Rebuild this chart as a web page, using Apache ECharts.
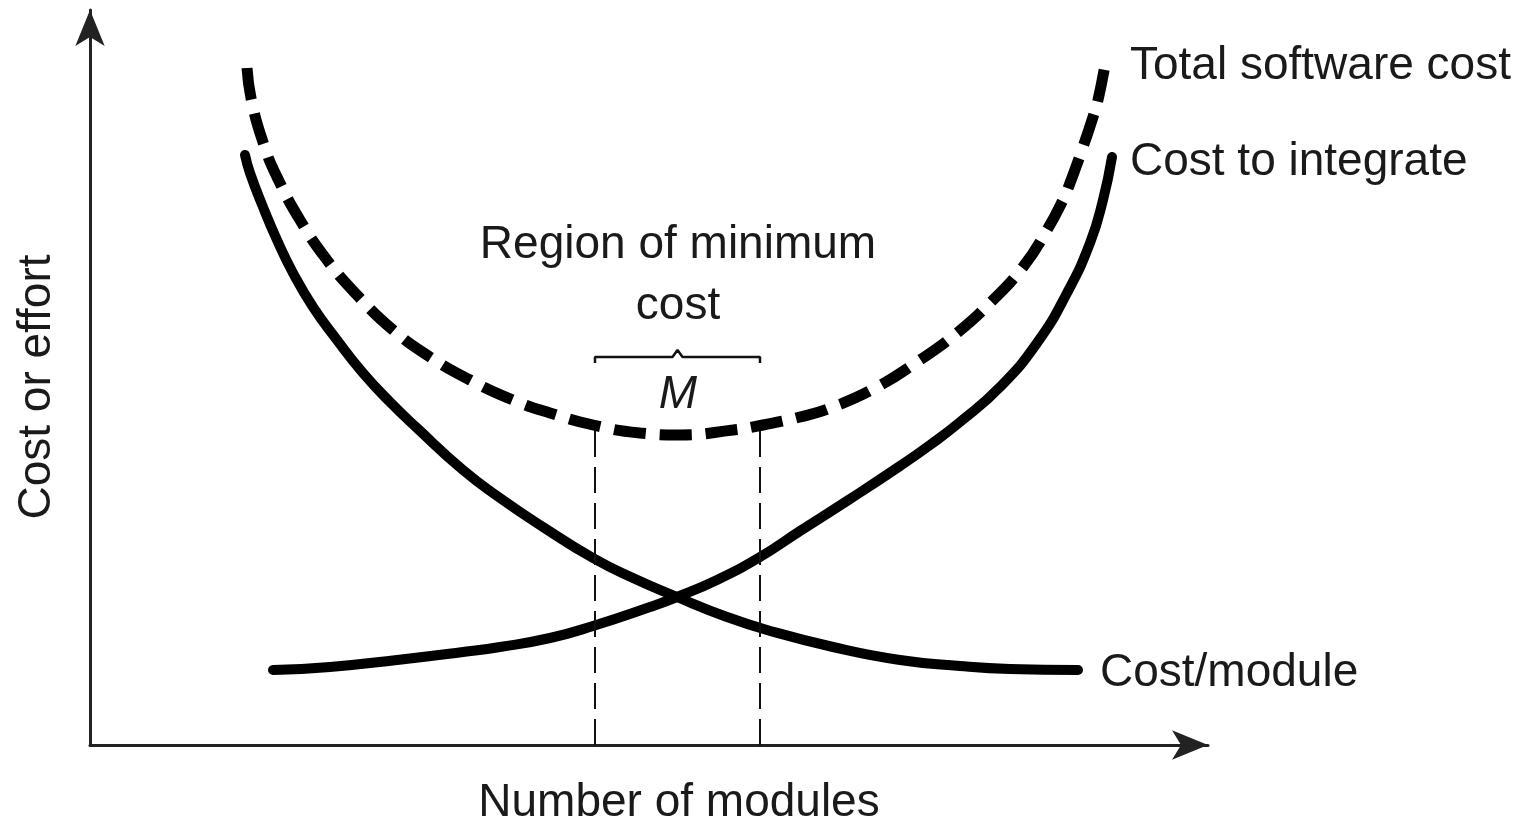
<!DOCTYPE html>
<html>
<head>
<meta charset="utf-8">
<script src="https://cdn.jsdelivr.net/npm/echarts@6/dist/echarts.min.js"></script>
<style>
html,body{margin:0;padding:0;background:#fff;}
#c{width:1526px;height:826px;}
</style>
</head>
<body>
<div id="c"></div>
<script>
// Curves (x = number of modules, y = cost or effort; arbitrary units)
var totalX = [15.7,16.2,17.5,18.7,21.0,23.7,26.7,30.3,34.0,38.0,42.3,46.0,50.3,55.0,59.0,64.3,67.3,71.0,74.3,78.7,82.7,86.7,90.0,93.3,95.7,97.3,98.0,99.3,100.3,100.8,101.5];
var totalY = [67.7,64.2,59.7,56.8,52.5,48.5,45.0,41.5,38.8,36.5,34.5,33.2,32.0,31.2,31.0,31.5,32.0,32.8,33.8,35.8,38.3,41.2,44.2,47.8,51.5,54.5,56.2,59.8,62.8,64.5,68.0];

var integrateX = [18.3,24.0,30.7,37.3,41.0,46.0,50.3,56.0,58.7,62.7,67.0,71.0,76.0,81.0,84.0,87.0,91.0,94.7,97.7,100.0,101.3,102.2];
var integrateY = [7.5,7.8,8.5,9.3,9.8,10.7,11.9,13.8,14.8,16.5,18.8,21.4,24.6,27.9,30.0,32.3,35.8,40.2,45.2,50.2,54.5,58.8];

var moduleX = [15.5,16.0,17.3,18.7,20.3,22.3,24.7,27.3,30.0,32.7,37.3,41.0,45.3,50.3,54.3,58.7,63.7,67.7,74.3,81.0,87.0,92.0,98.8];
var moduleY = [59.0,57.2,53.8,50.5,47.2,43.8,40.5,37.2,34.3,31.7,27.5,24.7,21.8,18.7,16.7,14.8,12.8,11.5,9.8,8.5,7.9,7.6,7.5];

// Region of minimum cost (M): bounds on x, height of the guide lines
var regionLeft = 50.5;
var regionRight = 67.0;
var regionTop = 32.0;
var bracketY = 38.8;
var bracketTickY = 38.2;
var bracketPeakY = 39.5;

var labels = {
  total: 'Total software cost',
  integrate: 'Cost to integrate',
  module: 'Cost/module',
  region1: 'Region of minimum',
  region2: 'cost',
  m: 'M',
  xName: 'Number of modules',
  yName: 'Cost or effort'
};

function zip(xs, ys){ return xs.map(function(x,i){ return [x, ys[i]]; }); }
var mid = (regionLeft + regionRight) / 2;
var bracket = [
  [regionLeft, bracketTickY],[regionLeft, bracketY],[mid-0.5, bracketY],[mid, bracketPeakY],[mid+0.5, bracketY],[regionRight, bracketY],[regionRight, bracketTickY]
];

var FONT = '"Liberation Sans", Arial, sans-serif';
var chart = echarts.init(document.getElementById('c'), null, {renderer:'canvas'});
var axisCommon = {
  type:'value', min:0,
  axisLine:{show:true, symbol:['none','arrow'], symbolSize:[22,36], lineStyle:{color:'#222', width:3}},
  axisTick:{show:false}, axisLabel:{show:false}, splitLine:{show:false}
};
var txt = {fill:'#1a1a1a', fontFamily:FONT, fontSize:46, textVerticalAlign:'middle'};
function T(x,y,text,extra){
  var st = Object.assign({}, txt, {text:text, x:0, y:0, textAlign:'left'}, extra||{});
  return {type:'text', x:x, y:y, style:st, z:10};
}
chart.setOption({
  animation:false,
  backgroundColor:'#ffffff',
  grid:{left:90, top:10, width:1118, height:735},
  xAxis:Object.assign({}, axisCommon, {max:111.8}),
  yAxis:Object.assign({}, axisCommon, {max:73.5}),
  series:[
    {type:'line', data:zip(totalX,totalY), smooth:0.5, showSymbol:false, clip:false,
     lineStyle:{color:'#000', width:11, type:[32,14], cap:'butt'}},
    {type:'line', data:zip(integrateX,integrateY), smooth:0.5, showSymbol:false, clip:false,
     lineStyle:{color:'#000', width:10, cap:'round'}},
    {type:'line', data:zip(moduleX,moduleY), smooth:0.5, showSymbol:false, clip:false,
     lineStyle:{color:'#000', width:10, cap:'round'}},
    {type:'line', data:[[regionLeft,0],[regionLeft,regionTop]], showSymbol:false,
     lineStyle:{color:'#111', width:2, type:[26,10]}},
    {type:'line', data:[[regionRight,0],[regionRight,regionTop]], showSymbol:false,
     lineStyle:{color:'#111', width:2, type:[26,10]}},
    {type:'line', data:bracket, showSymbol:false,
     lineStyle:{color:'#111', width:2.5}}
  ],
  graphic:[
    T(1130, 66, labels.total),
    T(1130, 162, labels.integrate),
    T(1100, 673, labels.module),
    T(678, 245, labels.region1, {textAlign:'center'}),
    T(678, 306, labels.region2, {textAlign:'center'}),
    T(678, 395, labels.m, {textAlign:'center', fontStyle:'italic', fontWeight:'lighter'}),
    T(679, 803, labels.xName, {textAlign:'center'}),
    {type:'text', x:37, y:387, rotation:Math.PI/2, z:10,
     style:Object.assign({}, txt, {text:labels.yName, x:0, y:0, textAlign:'center'})}
  ]
});
</script>
</body>
</html>
